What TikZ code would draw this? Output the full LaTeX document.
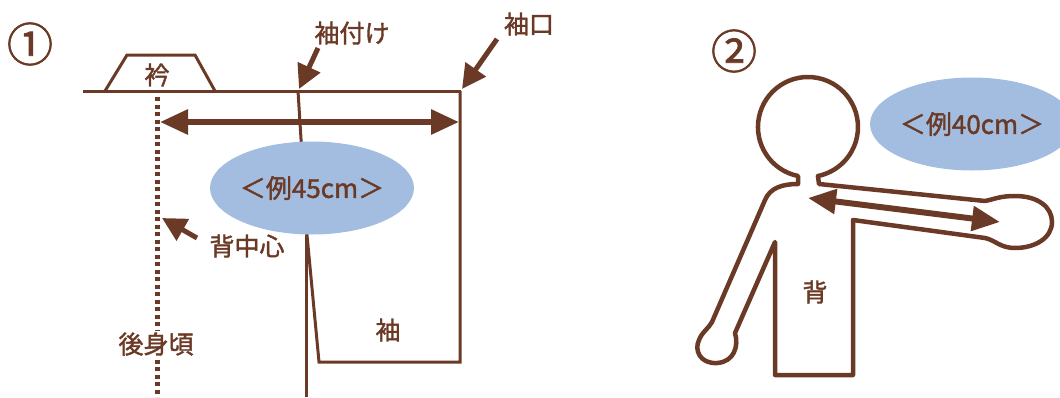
\documentclass[tikz,border=0pt]{standalone}
\usepackage{fontspec}
\newfontfamily\jpfont[FakeBold=1.6]{Noto Sans CJK JP}
\usetikzlibrary{arrows.meta,shapes.geometric}
\definecolor{kogecha}{HTML}{6B3A26}
\definecolor{sorairo}{HTML}{A3BDE1}

\begin{document}
\begin{tikzpicture}[x=1pt,y=-1pt,
    outline/.style={draw=kogecha, line width=3pt},
    figure/.style={draw=kogecha, line width=4.5pt, line join=round},
    pointer/.style={kogecha, line width=5pt, -{Triangle[length=24pt,width=24pt]}},
    span/.style={kogecha, line width=6pt, {Triangle[length=28pt,width=24pt]}-{Triangle[length=28pt,width=24pt]}},
    bubble/.style={ellipse, fill=sorairo, inner sep=0pt, minimum width=187pt, minimum height=93pt,
      text=kogecha, font=\jpfont\fontsize{26}{26}\selectfont},
    lbl/.style={text=kogecha, inner sep=1pt, font=\jpfont\fontsize{25}{25}\selectfont},
    num/.style={text=kogecha, inner sep=0pt, font=\jpfont\fontsize{46}{46}\selectfont}]
\useasboundingbox (0,0) rectangle (1060,397);

% (1) back bodice and sleeve
\node[num] (one) at (30,44) {①};
\draw[outline] (83,91) -- (461,91);
\draw[outline] (105,91) -- (127,55) -- (195,55) -- (215,91);
\node[lbl] (collar) at (157,75) {衿};
\draw[kogecha, line width=5pt, dash pattern=on 4pt off 3.5pt] (157,97) -- (157,397);
\draw[outline] (298,91) -- (307,235) -- (319,362) -- (460,362) -- (460,91);
\draw[outline] (306,235) -- (306,397);

\coordinate (nape) at (160,122);
\coordinate (cuffend) at (459,122);
\draw[span] (nape) -- (cuffend);

\node[bubble] (len45) at (312,188) {＜例45cm＞};

\node[lbl] (attach) at (352,33) {袖付け};
\coordinate (attachtail) at (318,48);
\coordinate (attachtip) at (299,89);
\draw[pointer] (attachtail) -- (attachtip);

\node[lbl] (cuff) at (529,24) {袖口};
\coordinate (cufftail) at (497,39);
\coordinate (cufftip) at (462,89);
\draw[pointer] (cufftail) -- (cufftip);

\node[lbl] (center) at (247,246) {背中心};
\coordinate (centertail) at (197,238);
\coordinate (centertip) at (162,218);
\draw[pointer] (centertail) -- (centertip);

\node[lbl, fill=white] (body) at (156,344) {後身頃};
\node[lbl] (sleeve) at (388,330) {袖};

% (2) measuring from the back
\node[num] (two) at (734,51) {②};
\draw[figure] (798,184) -- (798,176) arc[start angle=101.5, end angle=438.5, radius=50]
  -- (819,184) -- (985,201)
  .. controls (995,199) and (1000,196) .. (1015,196)
  .. controls (1038,196) and (1052,207) .. (1052,222)
  .. controls (1052,238) and (1035,248) .. (1015,248)
  .. controls (1000,248) and (995,240) .. (985,238)
  -- (853,220) -- (853,375) -- (775,375) -- (775,242) -- (735,333)
  .. controls (739,346) and (734,362) .. (717,363)
  .. controls (700,364) and (694,350) .. (699,340)
  .. controls (702,332) and (709,328) .. (712,322)
  -- (765,200) .. controls (770,188) and (782,184) .. (798,184) -- cycle;
\node[lbl] (back) at (815,292) {背};

\coordinate (neck) at (808,198);
\coordinate (wrist) at (1000,222);
\draw[span] (neck) -- (wrist);

\node[bubble] (len40) at (972,124) {＜例40cm＞};
\end{tikzpicture}
\end{document}
